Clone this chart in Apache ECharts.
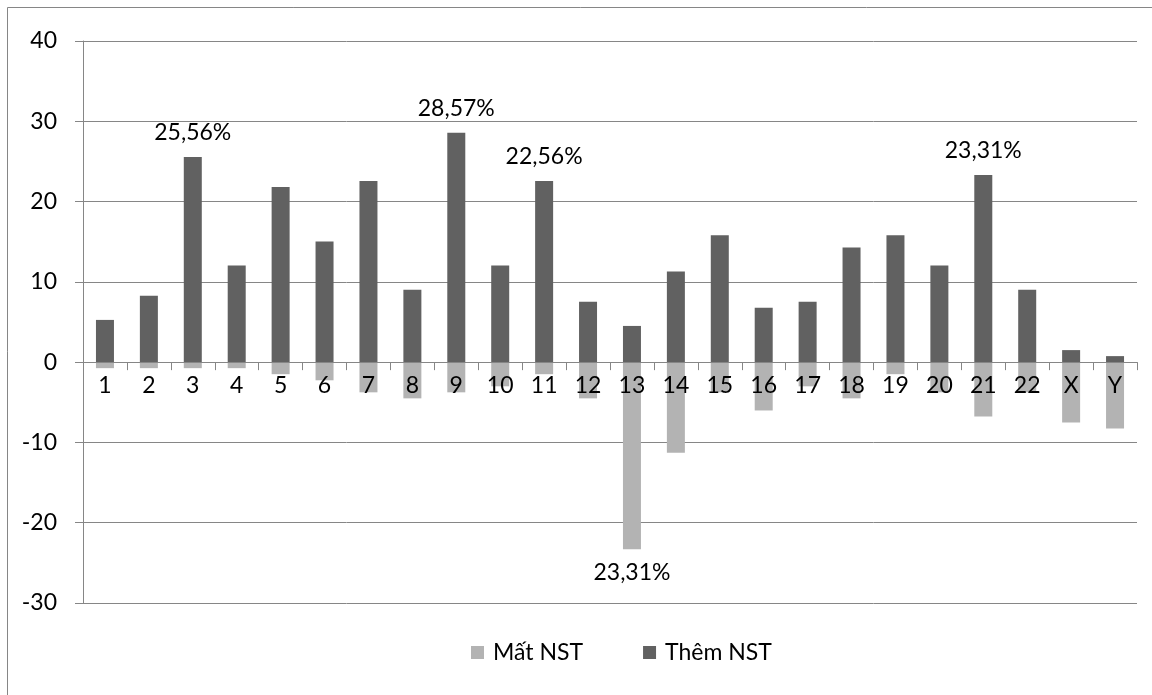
<!DOCTYPE html>
<html>
<head>
<meta charset="utf-8">
<title>Mất NST / Thêm NST</title>
<script src="https://cdn.jsdelivr.net/npm/echarts@6/dist/echarts.min.js"></script>
<style>
  html, body { margin: 0; padding: 0; background: #ffffff; }
  #chart { width: 1152px; height: 695px; }
</style>
</head>
<body>
<div id="chart"></div>
<script>
// Chromosome categories
const categories = ['1','2','3','4','5','6','7','8','9','10','11','12','13','14','15','16','17','18','19','20','21','22','X','Y'];

// Chromosome loss (%), drawn below zero
const lossValues = [0.75, 0.75, 0.75, 0.75, 1.50, 2.26, 3.76, 4.51, 3.76, 3.01, 1.50, 4.51,
                    23.31, 11.28, 3.76, 6.02, 3.01, 4.51, 1.50, 3.76, 6.77, 3.76, 7.52, 8.27];

// Chromosome gain (%), drawn above zero
const gainValues = [5.26, 8.27, 25.56, 12.03, 21.80, 15.04, 22.56, 9.02, 28.57, 12.03, 22.56, 7.52,
                    4.51, 11.28, 15.79, 6.77, 7.52, 14.29, 15.79, 12.03, 23.31, 9.02, 1.50, 0.75];

// Bars that carry a value label
const gainLabelled = ['3', '9', '11', '21'];
const lossLabelled = ['13'];

// Value axis ticks
const yMin = -30, yMax = 40, yStep = 10;

const seriesNames = ['Mất NST', 'Thêm NST'];

const FONT = 'Lato, "Open Sans", "Liberation Sans", sans-serif';
const FONT_SIZE = 23;
const fmt = v => Math.abs(v).toFixed(2).replace('.', ',') + '%';

const lossData = categories.map((c, i) => {
  const item = { value: -lossValues[i] };
  if (lossLabelled.includes(c)) {
    item.label = { show: true, position: 'bottom', distance: 12 };
  }
  return item;
});

const gainData = categories.map((c, i) => {
  const item = { value: gainValues[i] };
  if (gainLabelled.includes(c)) {
    item.label = { show: true, position: 'top', distance: 13 };
  }
  return item;
});

const chart = echarts.init(document.getElementById('chart'), null, { renderer: 'canvas' });

const labelStyle = {
  show: false,
  color: '#000',
  fontFamily: FONT,
  fontSize: FONT_SIZE,
  formatter: p => fmt(p.value)
};

chart.setOption({
  animation: false,
  backgroundColor: '#ffffff',
  textStyle: { fontFamily: FONT },
  graphic: [{
    type: 'rect',
    shape: { x: 7.5, y: 7.5, width: 1200, height: 750 },
    style: { fill: 'none', stroke: '#868686', lineWidth: 1 },
    silent: true,
    z: -10
  }],
  grid: { left: 83, right: 15, top: 41, bottom: 92, containLabel: false },
  legend: {
    data: seriesNames,
    top: 636,
    left: 466,
    icon: 'rect',
    itemWidth: 13,
    itemHeight: 13,
    itemGap: 60,
    textStyle: { fontFamily: FONT, fontSize: FONT_SIZE, color: '#000', padding: [0, 0, 0, 4] }
  },
  xAxis: {
    type: 'category',
    data: categories,
    position: 'bottom',
    axisLine: { show: true, onZero: false, lineStyle: { color: '#868686', width: 1 } },
    axisTick: { show: true, length: 8, lineStyle: { color: '#868686' } },
    axisLabel: { color: '#000', fontFamily: FONT, fontSize: FONT_SIZE, margin: 12, interval: 0 },
    splitLine: { show: false },
    z: 5
  },
  yAxis: {
    type: 'value',
    min: yMin,
    max: yMax,
    interval: yStep,
    axisLine: { show: true, onZero: false, lineStyle: { color: '#868686', width: 1 } },
    axisTick: { show: true, length: 8, lineStyle: { color: '#868686' } },
    axisLabel: { color: '#000', fontFamily: FONT, fontSize: FONT_SIZE, margin: 26 },
    splitLine: { show: true, lineStyle: { color: '#868686', width: 1 } }
  },
  series: [
    {
      name: seriesNames[0],
      type: 'bar',
      data: lossData,
      barWidth: 18,
      barGap: '-100%',
      itemStyle: { color: '#b3b3b3' },
      label: labelStyle,
      z: 3
    },
    {
      name: seriesNames[1],
      type: 'bar',
      data: gainData,
      barWidth: 18,
      barGap: '-100%',
      itemStyle: { color: '#616161' },
      label: labelStyle,
      z: 3
    }
  ]
});

// Lift the category axis from the bottom edge up to the zero line of the value axis
const zeroY = chart.convertToPixel({ yAxisIndex: 0 }, 0);
const bottomY = chart.convertToPixel({ yAxisIndex: 0 }, yMin);
chart.setOption({ xAxis: { offset: zeroY - bottomY } });
</script>
</body>
</html>
